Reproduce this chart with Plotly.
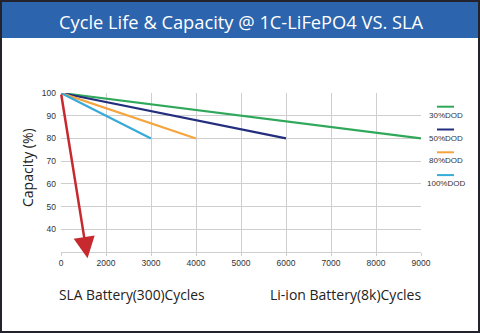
import plotly.graph_objects as go

# ---- data ----
x_tick_labels = ["0", "2000", "3000", "4000", "5000", "6000", "7000", "8000", "9000"]
series_names = ["30%DOD", "50%DOD", "80%DOD", "100%DOD"]
series_colors = ["#2fa85a", "#232e7e", "#f5a43e", "#36abd8"]
series_x = [["0", "9000"], ["0", "6000"], ["0", "4000"], ["0", "3000"]]
series_y = [[100, 80], [100, 80], [100, 80], [100, 80]]
y_tick_vals = [30, 40, 50, 60, 70, 80, 90, 100]
y_tick_text = ["", "40", "50", "60", "70", "80", "90", "100"]
arrow_start = (0, 100)      # (category index, capacity)
arrow_end = (0.59, 27.3)
title_text = "Cycle Life &amp; Capacity @ 1C-LiFePO4 VS. SLA"
y_title = "Capacity (%)"
bottom_labels = ["SLA Battery(300)Cycles", "Li-ion Battery(8k)Cycles"]

# ---- layout helpers (pixel -> paper) ----
W, H = 480, 333
L, R, T, B = 61, 421, 93, 252
def px(x):
    return (x - L) / (R - L)
def py(y):
    return (B - y) / (B - T)

fig = go.Figure()
for name, col, xs, ys in zip(series_names, series_colors, series_x, series_y):
    fig.add_trace(go.Scatter(x=xs, y=ys, mode="lines", name=name,
                             line=dict(color=col, width=2.2), showlegend=False,
                             hoverinfo="skip"))

shapes = []
annotations = []
# title bar
shapes.append(dict(type="rect", xref="paper", yref="paper", x0=px(0), x1=px(480),
                   y0=py(38), y1=py(0), fillcolor="#2c64ad", line=dict(width=0), layer="below"))
# border
shapes.append(dict(type="rect", xref="paper", yref="paper", x0=px(1), x1=px(479),
                   y0=py(332), y1=py(1), fillcolor="rgba(0,0,0,0)",
                   line=dict(color="#23232e", width=2)))
annotations.append(dict(text=title_text, xref="paper", yref="paper", x=px(241), y=py(21),
                        showarrow=False, xanchor="center", yanchor="middle",
                        font=dict(family="Open Sans", size=18.3, color="white")))
# custom legend (line sample above label)
for i, (name, col) in enumerate(zip(series_names, series_colors)):
    ly = 106.7 + 22.8 * i
    shapes.append(dict(type="line", xref="paper", yref="paper", x0=px(437), x1=px(454),
                       y0=py(ly), y1=py(ly), line=dict(color=col, width=2)))
    annotations.append(dict(text=name, xref="paper", yref="paper", x=px(445.5), y=py(ly + 8.5),
                            showarrow=False, xanchor="center", yanchor="middle",
                            font=dict(family="Liberation Sans", size=8, color="#333333")))
# y title
annotations.append(dict(text=y_title, xref="paper", yref="paper", x=px(27.5), y=py(167.5),
                        showarrow=False, textangle=-90, xanchor="center", yanchor="middle",
                        font=dict(family="Open Sans", size=14, color="#222222")))
# bottom labels
annotations.append(dict(text=bottom_labels[0], xref="paper", yref="paper", x=px(57), y=py(294),
                        showarrow=False, xanchor="left", yanchor="middle",
                        font=dict(family="Open Sans", size=13.8, color="#222222")))
annotations.append(dict(text=bottom_labels[1], xref="paper", yref="paper", x=px(268), y=py(294),
                        showarrow=False, xanchor="left", yanchor="middle",
                        font=dict(family="Open Sans", size=14, color="#222222")))
# red arrow
annotations.append(dict(x=arrow_end[0], y=arrow_end[1], ax=arrow_start[0], ay=arrow_start[1],
                        xref="x", yref="y", axref="x", ayref="y", text="", showarrow=True,
                        arrowhead=2, arrowwidth=2.5, arrowsize=1.7, arrowcolor="#c62a2f"))

fig.update_layout(
    width=W, height=H,
    margin=dict(l=L, r=W - R, t=T, b=H - B),
    paper_bgcolor="white", plot_bgcolor="white",
    shapes=shapes, annotations=annotations,
    showlegend=False,
    xaxis=dict(type="category", categoryorder="array", categoryarray=x_tick_labels,
               range=[0, 8], showgrid=True, gridcolor="#cfcfcf", gridwidth=1.3,
               showline=True, linecolor="#cfcfcf", linewidth=1.3,
               ticks="outside", ticklen=3, tickcolor="#cfcfcf",
               tickfont=dict(family="Liberation Sans", size=8.5, color="#333333"),
               zeroline=False, fixedrange=True),
    yaxis=dict(range=[30, 100], tickvals=y_tick_vals, ticktext=y_tick_text,
               showgrid=True, gridcolor="#cfcfcf", gridwidth=1.3, zeroline=False,
               showline=False, ticks="", ticklabelstandoff=4,
               tickfont=dict(family="Liberation Sans", size=8.5, color="#333333"),
               fixedrange=True),
)

fig.write_html("out.html")
